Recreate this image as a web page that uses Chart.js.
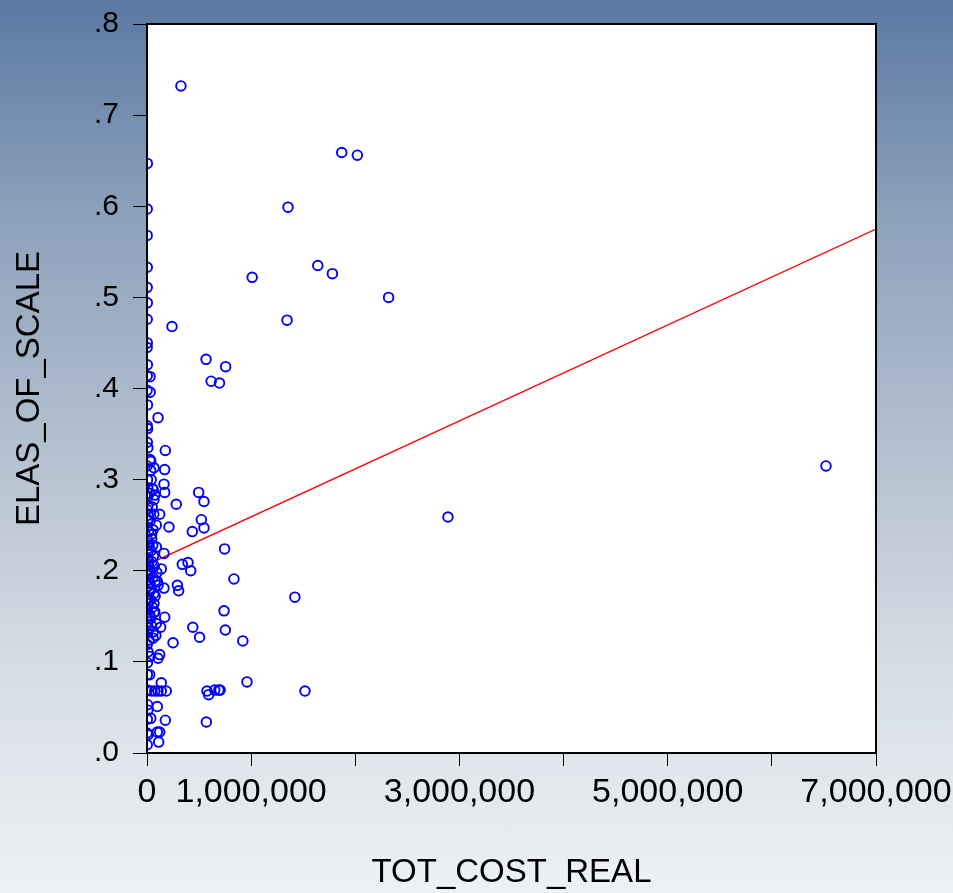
<!DOCTYPE html>
<html>
<head>
<meta charset="utf-8">
<script src="https://cdn.jsdelivr.net/npm/chart.js@4/dist/chart.umd.min.js"></script>
<style>
  html, body { margin: 0; padding: 0; }
  body { width: 953px; height: 893px; overflow: hidden;
    background: linear-gradient(to bottom, #5a79a2 0%, #8ea2bb 25%, #b3c0cf 50%, #d6dde5 75%, #eef1f4 100%); }
  canvas { display: block; }
</style>
</head>
<body>
<canvas id="chart" width="953" height="893"></canvas>
<script>
// TOT_COST_REAL (x) vs ELAS_OF_SCALE (y)
const costX = [
  // firms sitting on the y axis
  3000, 2000, 1500, 2500, 1800, 3000, 2200, 2800, 1200, 3500, 2000, 29000, 1000, 30000, 4000,
  2000, 6000, 3000, 8000, 29000, 1500, 5000, 7000, 2500, 9000, 4000, 12000, 6000, 2000, 15000,
  5000, 20000, 8000, 3000, 18000, 10000, 25000, 4000, 14000, 30000, 6000, 22000, 9000, 35000,
  12000, 3000, 28000, 7000, 40000, 15000, 5000, 20000, 2000, 10000, 4000, 3000, 2000, 6000,
  8000, 3000, 1000, 2000,
  // dense cluster
  45000, 55000, 38000, 62000, 48000, 70000, 33000, 58000, 80000, 42000, 66000, 52000, 75000,
  36000, 60000, 85000, 44000, 90000, 95000, 100000, 78000, 30000, 65000, 50000, 25000, 40000,
  35000, 55000,
  // small firms
  176000, 170000, 36000, 67000, 163000, 170000, 58000, 74000, 67000, 106000, 122000, 211000,
  89000, 58000, 163000, 137000, 163000, 106000, 67000, 170000, 131000, 67000, 58000, 89000,
  122000, 106000, 26000, 26000, 137000, 41000, 74000, 106000, 137000, 185000, 99000, 36000,
  176000, 99000, 122000, 112000, 10000,
  // larger firms
  326000, 1870000, 2020000, 1354000, 1010000, 1640000, 1780000, 2320000, 1345000, 240000,
  567000, 755000, 616000, 696000, 6520000, 2890000, 1420000, 1517000, 960000, 920000, 835000,
  745000, 740000, 752000, 505000, 496000, 547000, 522000, 547000, 435000, 281000, 339000,
  394000, 420000, 292000, 304000, 440000, 250000, 576000, 592000, 650000, 702000, 690000, 570000
];
const elasY = [
  0.647, 0.597, 0.568, 0.533, 0.511, 0.494, 0.476, 0.450, 0.445, 0.426, 0.414, 0.413, 0.398, 0.396, 0.382,
  0.359, 0.356, 0.341, 0.335, 0.322, 0.315, 0.300, 0.291, 0.281, 0.272, 0.267, 0.261, 0.256, 0.248, 0.243,
  0.234, 0.228, 0.221, 0.214, 0.210, 0.206, 0.201, 0.195, 0.190, 0.186, 0.183, 0.177, 0.170, 0.168,
  0.164, 0.157, 0.151, 0.144, 0.140, 0.137, 0.132, 0.124, 0.119, 0.111, 0.099, 0.086, 0.069, 0.053,
  0.047, 0.037, 0.022, 0.009,
  0.235, 0.228, 0.222, 0.216, 0.210, 0.205, 0.198, 0.193, 0.189, 0.180, 0.175, 0.160, 0.155,
  0.148, 0.133, 0.129, 0.240, 0.226, 0.198, 0.188, 0.172, 0.255, 0.262, 0.270, 0.285, 0.300,
  0.310, 0.290,
  0.332, 0.311, 0.320, 0.313, 0.295, 0.286, 0.289, 0.283, 0.278, 0.368, 0.262, 0.248,
  0.250, 0.245, 0.219, 0.202, 0.181, 0.184, 0.164, 0.149, 0.138, 0.154, 0.126, 0.142,
  0.108, 0.104, 0.106, 0.086, 0.077, 0.068, 0.068, 0.068, 0.068, 0.068, 0.051, 0.038,
  0.036, 0.023, 0.023, 0.012, 0.020,
  0.732, 0.659, 0.656, 0.599, 0.522, 0.535, 0.526, 0.500, 0.475, 0.468,
  0.432, 0.424, 0.408, 0.406, 0.315, 0.259, 0.171, 0.068, 0.078, 0.123, 0.191,
  0.224, 0.156, 0.135, 0.127, 0.286, 0.276, 0.256, 0.247, 0.243, 0.273, 0.207,
  0.209, 0.200, 0.184, 0.178, 0.138, 0.121, 0.068, 0.064, 0.069, 0.069, 0.069, 0.034
];

// fitted regression line (end points)
const fitX = [0, 7000000];
const fitY = [0.2065, 0.575];

// axis ticks
const xLabelled = [0, 1000000, 3000000, 5000000, 7000000];
const xMin = 0, xMax = 7000000, xStep = 1000000;
const yMin = 0, yMax = 0.8, yStep = 0.1;

const points = costX.map((x, i) => ({ x, y: elasY[i] }));
const fitLine = fitX.map((x, i) => ({ x, y: fitY[i] }));

// white plot area + black frame
const frame = {
  id: 'frame',
  beforeDraw(chart) {
    const { ctx, chartArea: a } = chart;
    ctx.save();
    ctx.fillStyle = '#fff';
    ctx.fillRect(a.left, a.top, a.right - a.left, a.bottom - a.top);
    ctx.restore();
  },
  afterDatasetsDraw(chart) {
    const { ctx, chartArea: a } = chart;
    ctx.save();
    ctx.strokeStyle = '#000';
    ctx.lineWidth = 2;
    ctx.strokeRect(a.left, a.top, a.right - a.left, a.bottom - a.top);
    ctx.restore();
  }
};

const font = 'Liberation Sans, Arial, sans-serif';

new Chart(document.getElementById('chart'), {
  type: 'scatter',
  data: {
    datasets: [
      {
        type: 'line',
        data: fitLine,
        borderColor: '#ff0000',
        borderWidth: 1.3,
        pointRadius: 0,
        fill: false,
        clip: 0,
        order: 2
      },
      {
        data: points,
        pointStyle: 'circle',
        pointRadius: 4.8,
        pointBorderWidth: 1.9,
        borderColor: '#0000ff',
        backgroundColor: 'rgba(0,0,0,0)',
        clip: 0,
        order: 1
      }
    ]
  },
  options: {
    responsive: false,
    animation: false,
    layout: { padding: { left: 0, right: 77, top: 24, bottom: 0 } },
    plugins: { legend: { display: false }, tooltip: { enabled: false } },
    scales: {
      x: {
        type: 'linear',
        min: xMin, max: xMax,
        afterFit: s => { s.height = 140; s.paddingLeft = 0; s.paddingRight = 0; },
        border: { display: false },
        grid: { drawOnChartArea: false, drawTicks: true, tickLength: 13, color: '#000', lineWidth: 1 },
        ticks: {
          stepSize: xStep, autoSkip: false, maxRotation: 0, padding: 6,
          color: '#000', font: { family: font, size: 34 },
          callback: v => xLabelled.includes(v) ? v.toLocaleString('en-US') : ''
        },
        title: {
          display: true, text: 'TOT_COST_REAL', color: '#000',
          font: { family: font, size: 33 }, padding: { top: 0, bottom: 0 }
        }
      },
      y: {
        min: yMin, max: yMax,
        afterFit: s => { s.width = 147; s.paddingTop = 0; s.paddingBottom = 0; },
        border: { display: false },
        grid: { drawOnChartArea: false, drawTicks: true, tickLength: 14, color: '#000', lineWidth: 1 },
        ticks: {
          stepSize: yStep, padding: 14, color: '#000',
          font: { family: font, size: 30 },
          callback: v => v.toFixed(1).replace(/^0/, '')
        },
        title: {
          display: true, text: 'ELAS_OF_SCALE', color: '#000',
          font: { family: font, size: 33 }, padding: { top: 10, bottom: 0 }
        }
      }
    }
  },
  plugins: [frame]
});
</script>
</body>
</html>
